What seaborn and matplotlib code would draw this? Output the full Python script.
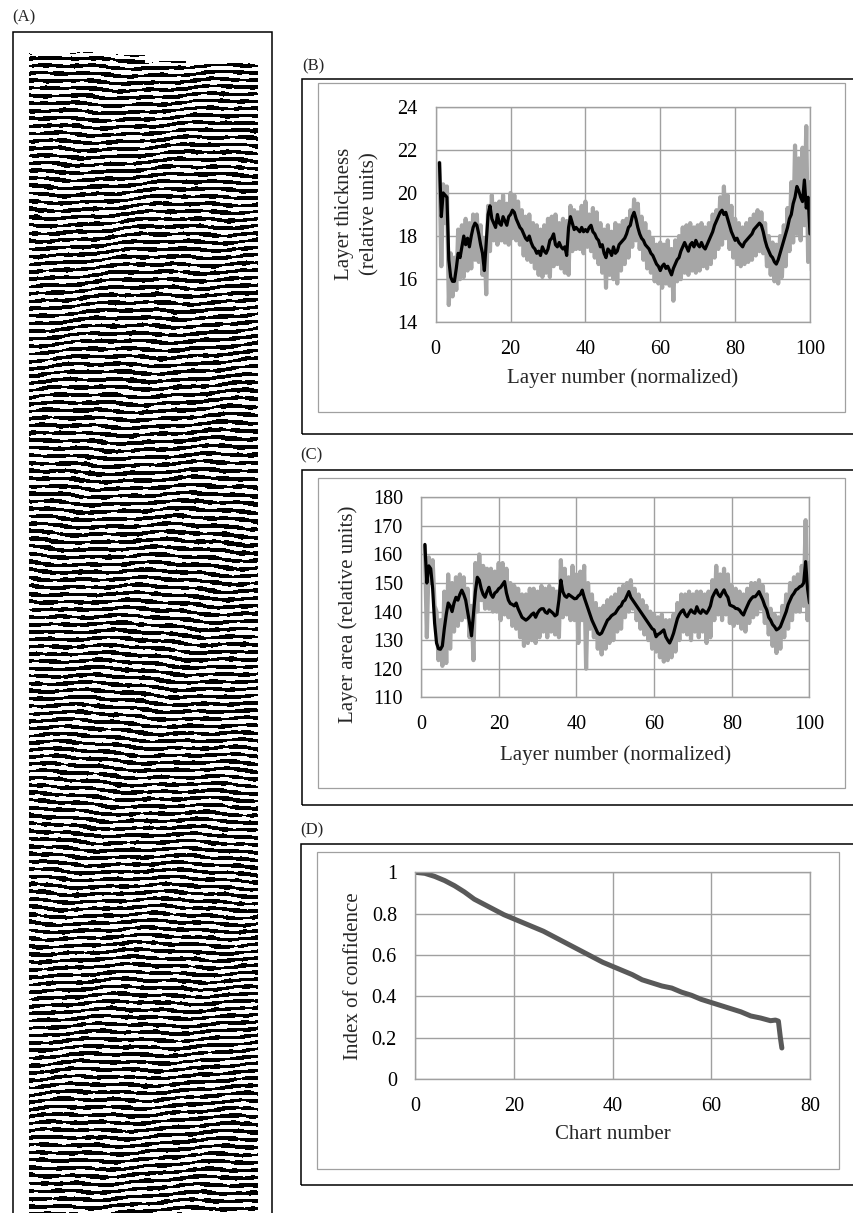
import numpy as np
import matplotlib
matplotlib.use("Agg")
import matplotlib.pyplot as plt
from matplotlib.patches import Rectangle
import seaborn as sns

# ---- data ----
# (B) layer thickness, black = running mean (step 0.5 from layer 1), grey = raw spread (hi/lo per layer)
b_mean = [21.4, 18.9, 20.0, 19.9, 19.8, 16.9, 16.1, 15.9, 15.9, 16.5,
          17.2, 17.0, 17.5, 18.0, 17.6, 17.9, 17.5, 18.0, 18.4, 18.6,
          18.5, 18.1, 17.6, 17.2, 16.4, 17.7, 19.0, 19.4, 18.8, 18.6,
          18.4, 19.0, 18.6, 18.5, 18.9, 18.7, 18.5, 18.9, 19.0, 19.2,
          19.1, 18.8, 18.6, 18.4, 18.3, 18.1, 17.9, 17.8, 18.0, 17.7,
          17.5, 17.4, 17.2, 17.3, 17.1, 17.5, 17.3, 17.2, 17.4, 17.8,
          17.9, 18.1, 17.6, 17.5, 17.7, 17.5, 17.4, 17.5, 17.1, 18.4,
          18.9, 18.6, 18.3, 18.4, 18.3, 18.2, 18.4, 18.2, 18.3, 18.2,
          18.4, 18.5, 18.2, 18.1, 17.9, 17.8, 17.5, 17.6, 17.2, 17.0,
          17.4, 17.3, 17.1, 17.5, 17.2, 17.3, 17.6, 17.7, 17.8, 17.9,
          18.1, 18.4, 18.5, 18.9, 19.1, 18.8, 18.4, 18.1, 17.9, 17.8,
          17.6, 17.5, 17.4, 17.2, 17.1, 16.9, 16.7, 16.6, 16.4, 16.6,
          16.7, 16.5, 16.6, 16.4, 16.2, 16.5, 16.7, 16.9, 17.0, 17.3,
          17.5, 17.7, 17.5, 17.3, 17.6, 17.7, 17.5, 17.8, 17.6, 17.5,
          17.7, 17.5, 17.4, 17.6, 17.8, 18.0, 18.2, 18.5, 18.7, 18.9,
          19.1, 19.2, 19.0, 19.1, 18.8, 18.5, 18.2, 18.0, 17.8, 17.9,
          17.7, 17.6, 17.5, 17.7, 17.8, 17.9, 18.0, 18.1, 18.3, 18.4,
          18.5, 18.6, 18.5, 18.2, 17.8, 17.5, 17.3, 17.1, 17.0, 16.8,
          16.7, 16.9, 17.2, 17.5, 17.8, 18.1, 18.4, 18.8, 19.0, 19.5,
          19.8, 20.3, 20.1, 19.8, 19.6, 20.6, 19.3, 19.8, 18.1]
b_hi = [21.4, 20.4, 20.3, 17.2, 17.0, 18.3, 18.5, 18.8, 18.6, 19.0,
        19.0, 18.5, 17.9, 19.4, 19.9, 19.5, 19.6, 19.9, 19.5, 20.0,
        19.9, 19.6, 19.2, 18.9, 19.0, 18.6, 18.5, 18.3, 18.5, 18.8,
        18.9, 19.0, 18.6, 18.8, 18.7, 19.4, 19.2, 19.1, 19.4, 19.6,
        19.0, 19.3, 19.1, 18.6, 18.3, 18.5, 18.2, 18.6, 18.5, 18.7,
        18.8, 19.2, 19.7, 19.5, 18.9, 18.6, 18.2, 17.9, 17.6, 17.7,
        17.6, 17.8, 17.4, 17.8, 18.0, 18.4, 18.5, 18.6, 18.4, 18.5,
        18.6, 18.4, 18.6, 19.0, 19.2, 19.8, 20.3, 19.9, 19.4, 18.8,
        18.6, 18.4, 18.6, 18.8, 19.0, 19.2, 19.1, 18.6, 18.0, 17.7,
        17.6, 18.0, 18.5, 19.3, 20.5, 22.2, 21.6, 22.1, 23.1, 20.5]
b_lo = [16.6, 18.6, 14.8, 15.2, 15.5, 16.0, 16.1, 16.4, 16.5, 16.9,
        16.8, 16.2, 15.3, 17.3, 17.8, 17.6, 17.8, 17.7, 17.6, 17.9,
        17.8, 17.6, 17.1, 16.9, 16.8, 16.5, 16.2, 16.1, 16.3, 16.1,
        16.6, 16.7, 16.5, 16.3, 16.2, 17.3, 17.4, 17.4, 17.2, 17.5,
        17.3, 17.0, 16.7, 16.3, 15.6, 16.2, 16.0, 15.8, 16.4, 16.7,
        17.0, 17.5, 17.8, 17.4, 16.9, 16.5, 16.3, 15.9, 15.8, 15.6,
        15.8, 15.7, 15.0, 15.9, 16.0, 16.3, 16.2, 16.4, 16.3, 16.4,
        16.6, 16.5, 16.7, 17.0, 17.4, 17.6, 17.9, 17.4, 17.0, 16.7,
        16.6, 16.7, 16.8, 16.9, 17.1, 17.3, 17.2, 16.6, 16.2, 15.9,
        15.8, 16.1, 16.6, 17.3, 17.7, 18.1, 17.8, 18.5, 16.8, 16.4]

# (C) layer area
c_mean = [163.5, 150, 156, 155, 148, 136, 129, 127, 126.8, 128,
          134, 139, 143, 142, 140, 143, 145, 144, 146, 147.5,
          146, 144, 140, 136, 131.5, 139, 147, 152, 151, 148,
          146, 145, 147, 148.5, 146, 145, 146.5, 147, 148, 148.5,
          149.5, 150.5, 146.5, 144, 142.8, 142.5, 142, 143, 141, 139.5,
          138, 137.5, 137, 137.5, 138.2, 139, 139.5, 138, 139.5, 140.5,
          141, 141, 139.8, 139.4, 140.6, 140, 139.4, 138.5, 139, 144,
          151, 147, 145.5, 145, 146, 145.5, 145, 144.5, 144.6, 145.5,
          146, 147.5, 145, 143, 141, 139, 137, 135.5, 134, 132.5,
          132, 132.5, 134, 135.5, 137, 137.6, 138.5, 139, 139.4, 140.5,
          141.5, 142, 143.5, 144, 145.5, 147, 145, 144, 143, 142,
          141, 140, 139, 138, 137, 136, 135, 134, 133.6, 131.2,
          132, 132.4, 133, 133.6, 131.2, 130, 129, 130.5, 132.4, 135,
          137.5, 139, 140, 140.6, 139, 138.2, 139.5, 140.6, 139.8, 139.4,
          141.7, 140, 139.4, 140.6, 140, 139.4, 140.5, 142, 145, 146.4,
          147.6, 146, 145.2, 146.5, 147.6, 146, 145, 142.3, 142, 141.7,
          141.1, 141, 140.5, 139.5, 138.8, 140.5, 142, 143.5, 144.5, 145.2,
          145.2, 146, 147, 145.5, 144, 142, 140.6, 138, 137, 135.5,
          134.7, 133.6, 134, 134.7, 136.5, 138.2, 140, 142.5, 144, 145.5,
          146.4, 147.6, 148, 148.7, 149, 150, 157.5, 148, 143]
c_hi = [163, 159, 158, 140, 137, 147, 153, 150, 152, 153,
        152, 148, 142, 157, 160, 156, 155, 155, 154, 157,
        157, 155, 150, 149, 148, 146, 146, 148, 148, 147,
        149, 148, 149, 148, 147, 158, 155, 152, 156, 153,
        154, 156, 150, 146, 143, 141, 142, 144, 145, 146,
        148, 149, 150, 151, 148, 146, 144, 142, 140, 139,
        138, 139, 137, 137, 139, 143, 146, 146, 147, 146,
        147, 147, 146, 147, 151, 156, 153, 155, 153, 149,
        148, 147, 146, 148, 150, 150, 151, 149, 146, 141,
        139, 138, 142, 146, 150, 152, 153, 156, 172, 157]
c_lo = [131, 150, 142, 123, 121, 122, 127, 133, 135, 137,
        138, 131, 123, 140, 144, 141, 141, 140, 140, 137,
        139, 138, 135, 134, 131, 128, 129, 130, 129, 131,
        133, 131, 133, 132, 131, 138, 139, 137, 137, 129,
        137, 120, 134, 131, 127, 125, 127, 129, 130, 133,
        134, 138, 140, 141, 137, 134, 132, 130, 127, 126,
        124, 122.5, 123, 124, 126, 130, 133, 132, 130, 133,
        131, 133, 129, 131, 137, 139, 137, 139, 136, 135,
        136, 134, 133, 136, 138, 139, 141, 136, 132, 128,
        125.5, 127, 131, 134, 137, 140, 140, 142, 137, 136]

# (D) index of confidence vs chart number
d_chart = [0, 2, 4, 6, 8, 10, 12, 14, 16, 18, 20, 22, 24, 26, 28, 30, 32, 34, 36, 38,
           40, 42, 44, 46, 48, 50, 52, 54, 56, 58, 60, 62, 64, 66, 68, 70, 72, 73, 73.6, 74, 74.3]
d_conf = [1.0, 0.995, 0.98, 0.96, 0.935, 0.905, 0.87, 0.845, 0.82, 0.795, 0.775, 0.755,
          0.735, 0.715, 0.69, 0.665, 0.64, 0.615, 0.59, 0.565, 0.545, 0.525, 0.505, 0.48,
          0.465, 0.45, 0.44, 0.42, 0.405, 0.385, 0.37, 0.355, 0.34, 0.325, 0.305, 0.295,
          0.282, 0.285, 0.28, 0.2, 0.15]

layer_ticks = [0, 20, 40, 60, 80, 100]
b_ticks = [14, 16, 18, 20, 22, 24]
c_ticks = [110, 120, 130, 140, 150, 160, 170, 180]
d_xticks = [0, 20, 40, 60, 80]
d_yticks = [0, 0.2, 0.4, 0.6, 0.8, 1.0]
d_ylabels = ["0", "0.2", "0.4", "0.6", "0.8", "1"]

# ---- figure ----
sns.set_theme(style="white")
plt.rcParams["font.family"] = ["Liberation Serif", "DejaVu Serif"]

W, H = 854, 1213
fig = plt.figure(figsize=(W / 100, H / 100), dpi=100)
fig.patch.set_facecolor("white")

GRID = "#A0A0A0"
GREY = "#A6A6A6"


def rect(l, t, r, b):
    return [l / W, 1 - b / H, (r - l) / W, (b - t) / H]


def box(l, t, r, b, color, lw):
    fig.add_artist(Rectangle((l / W, 1 - b / H), (r - l) / W, (b - t) / H,
                             transform=fig.transFigure, fill=False,
                             edgecolor=color, linewidth=lw, clip_on=False))


def label(x, y, s):
    fig.text(x / W, 1 - y / H, s, fontsize=12, ha="left", va="center")


def style_axes(ax):
    ax.set_axisbelow(True)
    ax.grid(True, color=GRID, linewidth=1.0)
    for sp in ax.spines.values():
        sp.set_color(GRID)
        sp.set_linewidth(1.0)
    ax.tick_params(length=0, labelsize=14.5, colors="black")
    ax.tick_params(axis="x", pad=13)
    ax.tick_params(axis="y", pad=13)


def zigzag(hi, lo, start):
    x = start + np.arange(len(hi))
    gx = np.column_stack([x, x + 0.5]).ravel()
    gy = np.column_stack([hi, lo]).ravel()
    return gx, gy


# ---- (A) stripe image of the layers (decorative texture) ----
label(12, 17, "(A)")
box(12.7, 32.3, 272, 1225, "black", 1.1)
ax_a = fig.add_axes(rect(29, 50, 258, 1213))
h, w = 1163, 229
yy, xx = np.mgrid[0:h, 0:w].astype(float)
phase = (2 * np.pi * yy / 7.5
         + 2 * np.pi * xx * 0.035 * np.sin(yy / 140) / 7.5
         + 1.6 * np.sin(2 * np.pi * xx / 170 + yy / 55)
         + 0.7 * np.sin(2 * np.pi * xx / 61 + yy / 19))
breaks = (0.55 * np.sin(2 * np.pi * xx / 33 + 2 * np.sin(yy / 13)) * np.sin(2 * np.pi * yy / 23 + 1.7 * np.sin(xx / 17))
          + 0.3 * np.sin(2 * np.pi * xx / 14 + yy / 5) * np.sin(2 * np.pi * yy / 29 + xx / 40))
stripes = (np.sin(phase) + breaks > 0.0).astype(float)
top = 3 + 2 * np.sin(xx / 13) + np.where(xx > 115, 9, 0)
stripes[yy < top] = 0
ax_a.imshow(stripes, cmap="gray_r", aspect="auto", interpolation="nearest", vmin=0, vmax=1)
ax_a.axis("off")

# ---- (B) ----
label(302, 66, "(B)")
box(302, 79, 870, 434, "black", 1.1)
box(318, 83, 845.5, 412, GRID, 0.9)
ax_b = fig.add_axes(rect(435.7, 106.7, 810, 322.3))
gx, gy = zigzag(b_hi, b_lo, 1)
sns.lineplot(x=gx, y=gy, ax=ax_b, color=GREY, linewidth=3.0)
bx = 1 + 0.5 * np.arange(len(b_mean))
sns.lineplot(x=bx, y=b_mean, ax=ax_b, color="black", linewidth=2.3)
ax_b.set_xlim(0, 100)
ax_b.set_ylim(14, 24)
ax_b.set_xticks(layer_ticks)
ax_b.set_yticks(b_ticks)
style_axes(ax_b)
ax_b.set_xlabel("Layer number (normalized)", fontsize=15)
ax_b.set_ylabel("Layer thickness\n(relative units)", fontsize=15, linespacing=1.45)
ax_b.xaxis.set_label_coords(0.5, -0.212)
ax_b.yaxis.set_label_coords(-0.149, 0.505)

# ---- (C) ----
label(300, 455, "(C)")
box(302, 470, 870, 805, "black", 1.1)
box(318, 478, 845.5, 788, GRID, 0.9)
ax_c = fig.add_axes(rect(421, 497.3, 809.5, 697.3))
gx, gy = zigzag(c_hi, c_lo, 1)
sns.lineplot(x=gx, y=gy, ax=ax_c, color=GREY, linewidth=3.0)
cx = 1 + 0.5 * np.arange(len(c_mean))
sns.lineplot(x=cx, y=c_mean, ax=ax_c, color="black", linewidth=2.3)
ax_c.set_xlim(0, 100)
ax_c.set_ylim(110, 180)
ax_c.set_xticks(layer_ticks)
ax_c.set_yticks(c_ticks)
style_axes(ax_c)
ax_c.set_xlabel("Layer number (normalized)", fontsize=15)
ax_c.set_ylabel("Layer area (relative units)", fontsize=15)
ax_c.xaxis.set_label_coords(0.5, -0.2385)
ax_c.yaxis.set_label_coords(-0.162, 0.416)

# ---- (D) ----
label(300, 830, "(D)")
box(301, 844, 870, 1185, "black", 1.1)
box(317, 852, 839, 1169, GRID, 0.9)
ax_d = fig.add_axes(rect(415, 872.3, 810, 1079))
sns.lineplot(x=d_chart, y=d_conf, ax=ax_d, color="#595959", linewidth=3.6)
ax_d.set_xlim(0, 80)
ax_d.set_ylim(0, 1)
ax_d.set_xticks(d_xticks)
ax_d.set_yticks(d_yticks)
ax_d.set_yticklabels(d_ylabels)
style_axes(ax_d)
ax_d.set_xlabel("Chart number", fontsize=15)
ax_d.set_ylabel("Index of confidence", fontsize=15)
ax_d.xaxis.set_label_coords(0.5, -0.2225)
ax_d.yaxis.set_label_coords(-0.132, 0.498)

fig.savefig("out.png", dpi=100, facecolor="white")
